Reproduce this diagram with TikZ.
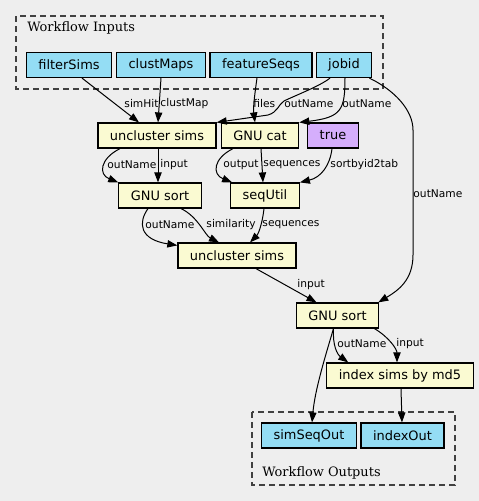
\documentclass[tikz,border=0pt]{standalone}
\usepackage{fontspec}
\setmainfont{DejaVu Sans}
\newfontfamily\clusterfont{DejaVu Serif}
\usepackage{tikz}
\usetikzlibrary{arrows.meta, calc}
\definecolor{ioblue}{HTML}{94DDF4}
\definecolor{stepyellow}{HTML}{FAFAD2}
\definecolor{valviolet}{HTML}{D5AEFC}
\definecolor{bggray}{HTML}{EEEEEE}
\tikzstyle{block} = [rectangle, draw=black, line width=0.9pt,
    minimum height=18.75pt, inner xsep=9pt, inner ysep=2pt,
    font=\fontsize{9.7}{11}\selectfont]
\tikzstyle{ioblock}   = [block, fill=ioblue]
\tikzstyle{stepblock} = [block, fill=stepyellow]
\tikzstyle{valblock}  = [block, fill=valviolet]
\tikzstyle{arrow}     = [-{Triangle[length=7.5pt, width=5.5pt]}, line width=0.75pt]
\tikzstyle{lbl}       = [anchor=west, inner sep=0.5pt, font=\fontsize{8}{9.6}\selectfont]
\tikzstyle{cluster}   = [draw=black!75, line width=1pt, dash pattern=on 4.5pt off 3pt]
\tikzstyle{clustertitle} = [anchor=base west, inner sep=0pt,
    font=\clusterfont\fontsize{9.7}{11}\selectfont]

\begin{document}
\begin{tikzpicture}[x=0.75pt, y=-0.75pt]
  \fill[bggray] (0,0) rectangle (479,501);
  \useasboundingbox (0,0) rectangle (479,501);
  % workflow inputs
  \draw[cluster] (16,16) rectangle (383,89);
  \node[clustertitle] (intitle) at (27,31) {Workflow Inputs};
  \node[ioblock] (fs)    at (69,65)  {filterSims};
  \node[ioblock] (cm)    at (161,65) {clustMaps};
  \node[ioblock] (fq)    at (261,65) {featureSeqs};
  \node[ioblock] (jobid) at (344,65) {jobid};
  % steps
  \node[stepblock] (u1)  at (157,135.5)   {uncluster sims};
  \node[stepblock] (cat) at (260,135.5)   {GNU cat};
  \node[valblock]  (tr)  at (333,135.5)   {true};
  \node[stepblock] (s1)  at (160,195.5)   {GNU sort};
  \node[stepblock] (su)  at (265,195.5)   {seqUtil};
  \node[stepblock] (u2)  at (237,255.5)   {uncluster sims};
  \node[stepblock] (s2)  at (337.5,315.5) {GNU sort};
  \node[stepblock] (md5) at (400,375.5)   {index sims by md5};
  % workflow outputs
  \draw[cluster] (252,412) rectangle (455,485);
  \node[ioblock] (sso) at (309,435.5)   {simSeqOut};
  \node[ioblock] (io)  at (402.5,435.5) {indexOut};
  \node[clustertitle] (outtitle) at (262,476) {Workflow Outputs};

  \draw[arrow] ($(fs.south)+(13,0)$) -- ($(u1.north)+(-18,0)$)
    node[lbl] at (123.3,104) {simHit};
  \draw[arrow] (cm.south) -- ($(u1.north)+(1,0)$)
    node[lbl] at (159.3,104) {clustMap};
  \draw[arrow] ($(fq.south)+(-4,0)$) .. controls +(-2,14) and +(-2,-15) .. ($(cat.north)+(-5,0)$)
    node[lbl] at (252.3,104) {files};
  \draw[arrow] ($(jobid.south)+(-14,0)$) .. controls +(-10,8) and +(10,-5) .. (284,101)
    .. controls +(-6,4) and +(10,-3) .. (268,115) -- (u1.north east)
    node[lbl] at (283.3,104) {outName};
  \draw[arrow] ($(jobid.south)+(1,0)$) .. controls +(0,32) and +(42,-5) .. (cat.north east)
    node[lbl] at (341.3,104) {outName};
  \draw[arrow] ($(jobid.south east)+(-3,0)$) .. controls +(25,12) and +(0,-20) .. (413,130)
    -- (413,255) .. controls +(0,25) and +(20,-12) .. ($(s2.north east)+(-1,0)$)
    node[lbl] at (412.3,194) {outName};
  \draw[arrow] ($(u1.south)+(-37,0)$) .. controls +(-20,10) and +(-20,-8) .. (s1.north west)
    node[lbl] at (106.3,165) {outName};
  \draw[arrow] ($(u1.south)+(1,0)$) -- ($(s1.north)+(-2,0)$)
    node[lbl] at (159.3,165) {input};
  \draw[arrow] ($(cat.south)+(-27,0)$) .. controls +(-20,10) and +(-20,-8) .. ($(su.north west)+(2,0)$)
    node[lbl] at (222.3,165) {output};
  \draw[arrow] ($(cat.south)+(1,0)$) -- ($(su.north)+(-2,0)$)
    node[lbl] at (262.3,165) {sequences};
  \draw[arrow] ($(tr.south)+(-1,0)$) .. controls +(-2,17) and +(21,-5) .. (su.north east)
    node[lbl] at (329.3,165) {sortbyid2tab};
  \draw[arrow] ($(s1.south)+(-12,0)$) .. controls +(-10,14) and +(-38,-6) .. ($(u2.north west)+(0,3)$)
    node[lbl] at (144.3,225) {outName};
  \draw[arrow] ($(s1.south)+(21,0)$) .. controls +(17,8) and +(-14,-7) .. ($(u2.north)+(-18,0)$)
    node[lbl] at (205.3,225) {similarity};
  \draw[arrow] ($(su.south)+(-1,0)$) .. controls +(-2,17) and +(8,-8) .. ($(u2.north)+(13,0)$)
    node[lbl] at (261.3,225) {sequences};
  \draw[arrow] ($(u2.south)+(19,0)$) -- ($(s2.north)+(-21,0)$)
    node[lbl] at (296.3,285) {input};
  \draw[arrow] ($(s2.south)+(-4,0)$) .. controls +(-1,17) and +(-11,-8) .. ($(md5.north west)+(22,0)$)
    node[lbl] at (336.3,344) {outName};
  \draw[arrow] ($(s2.south)+(37,0)$) .. controls +(15,9) and +(0,-13) .. ($(md5.north)+(-3,0)$)
    node[lbl] at (395.3,344) {input};
  \draw[arrow] ($(s2.south)+(-4,0)$) .. controls +(-8,27) and +(3,-33) .. ($(sso.north)+(3,0)$);
  \draw[arrow] ($(md5.south)+(1,0)$) -- ($(io.north)+(-0.5,0)$);
\end{tikzpicture}
\end{document}
